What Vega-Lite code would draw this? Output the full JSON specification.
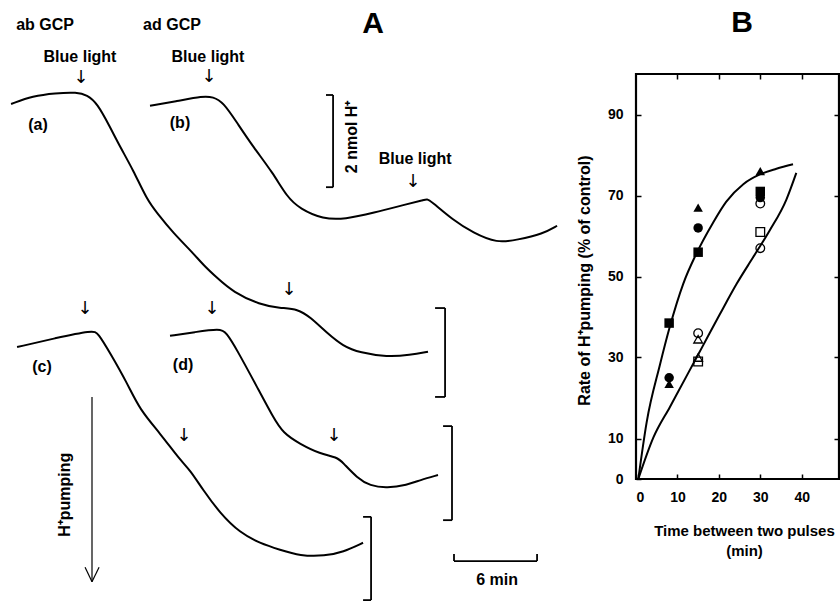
{
  "$schema": "https://vega.github.io/schema/vega-lite/v6.json",
  "width": 840,
  "height": 602,
  "padding": 0,
  "autosize": {"type": "none"},
  "background": "white",
  "config": {"view": {"stroke": null}, "font": "Liberation Sans"},
  "datasets": {
    "traces": [
      {"trace": "a", "t": 0.83, "h": 10.59}, {"trace": "a", "t": 2.48, "h": 10.76}, {"trace": "a", "t": 4.13, "h": 10.82}, {"trace": "a", "t": 5.78, "h": 10.84}, {"trace": "a", "t": 6.53, "h": 10.78}, {"trace": "a", "t": 7.28, "h": 10.61}, {"trace": "a", "t": 8.25, "h": 10.10}, {"trace": "a", "t": 9.0, "h": 9.68}, {"trace": "a", "t": 9.98, "h": 9.19}, {"trace": "a", "t": 11.03, "h": 8.55}, {"trace": "a", "t": 11.78, "h": 8.27}, {"trace": "a", "t": 12.98, "h": 7.85}, {"trace": "a", "t": 14.48, "h": 7.42}, {"trace": "a", "t": 15.23, "h": 7.17}, {"trace": "a", "t": 16.28, "h": 6.89}, {"trace": "a", "t": 17.48, "h": 6.59}, {"trace": "a", "t": 19.5, "h": 6.32}, {"trace": "a", "t": 21.0, "h": 6.25}, {"trace": "a", "t": 22.35, "h": 6.23}, {"trace": "a", "t": 23.25, "h": 6.06}, {"trace": "a", "t": 24.53, "h": 5.72}, {"trace": "a", "t": 25.73, "h": 5.44}, {"trace": "a", "t": 27.0, "h": 5.30}, {"trace": "a", "t": 29.03, "h": 5.21}, {"trace": "a", "t": 30.75, "h": 5.25}, {"trace": "a", "t": 32.1, "h": 5.32},
      {"trace": "b", "t": 11.25, "h": 10.55}, {"trace": "b", "t": 13.28, "h": 10.65}, {"trace": "b", "t": 15.23, "h": 10.76}, {"trace": "b", "t": 15.98, "h": 10.74}, {"trace": "b", "t": 16.73, "h": 10.63}, {"trace": "b", "t": 17.78, "h": 10.19}, {"trace": "b", "t": 18.98, "h": 9.68}, {"trace": "b", "t": 20.48, "h": 9.12}, {"trace": "b", "t": 21.53, "h": 8.61}, {"trace": "b", "t": 22.5, "h": 8.36}, {"trace": "b", "t": 24.23, "h": 8.14}, {"trace": "b", "t": 25.88, "h": 8.14}, {"trace": "b", "t": 27.98, "h": 8.27}, {"trace": "b", "t": 30.53, "h": 8.46}, {"trace": "b", "t": 31.8, "h": 8.55}, {"trace": "b", "t": 32.03, "h": 8.57}, {"trace": "b", "t": 32.3, "h": 8.53}, {"trace": "b", "t": 33.98, "h": 8.12}, {"trace": "b", "t": 35.48, "h": 7.85}, {"trace": "b", "t": 37.28, "h": 7.63}, {"trace": "b", "t": 38.78, "h": 7.70}, {"trace": "b", "t": 40.73, "h": 7.83}, {"trace": "b", "t": 41.78, "h": 8.00},
      {"trace": "c", "t": 1.28, "h": 5.42}, {"trace": "c", "t": 4.13, "h": 5.61}, {"trace": "c", "t": 6.98, "h": 5.78}, {"trace": "c", "t": 7.35, "h": 5.72}, {"trace": "c", "t": 8.25, "h": 5.30}, {"trace": "c", "t": 9.53, "h": 4.66}, {"trace": "c", "t": 10.5, "h": 4.08}, {"trace": "c", "t": 12.0, "h": 3.59}, {"trace": "c", "t": 13.5, "h": 3.02}, {"trace": "c", "t": 14.25, "h": 2.81}, {"trace": "c", "t": 15.23, "h": 2.38}, {"trace": "c", "t": 16.5, "h": 1.89}, {"trace": "c", "t": 18.0, "h": 1.47}, {"trace": "c", "t": 19.5, "h": 1.25}, {"trace": "c", "t": 21.0, "h": 1.11}, {"trace": "c", "t": 22.5, "h": 0.98}, {"trace": "c", "t": 24.38, "h": 0.98}, {"trace": "c", "t": 25.73, "h": 1.06}, {"trace": "c", "t": 27.23, "h": 1.26},
      {"trace": "d", "t": 12.75, "h": 5.66}, {"trace": "d", "t": 14.63, "h": 5.74}, {"trace": "d", "t": 16.5, "h": 5.81}, {"trace": "d", "t": 16.95, "h": 5.74}, {"trace": "d", "t": 17.78, "h": 5.36}, {"trace": "d", "t": 19.28, "h": 4.57}, {"trace": "d", "t": 20.48, "h": 3.93}, {"trace": "d", "t": 21.23, "h": 3.59}, {"trace": "d", "t": 22.5, "h": 3.36}, {"trace": "d", "t": 24.0, "h": 3.15}, {"trace": "d", "t": 25.28, "h": 3.08}, {"trace": "d", "t": 25.73, "h": 2.96}, {"trace": "d", "t": 26.78, "h": 2.64}, {"trace": "d", "t": 27.75, "h": 2.47}, {"trace": "d", "t": 29.03, "h": 2.42}, {"trace": "d", "t": 30.53, "h": 2.49}, {"trace": "d", "t": 31.5, "h": 2.59}, {"trace": "d", "t": 32.85, "h": 2.70}
    ],
    "brackets": [
      {"t": 24.98, "t2": 24.98, "h": 10.78, "h2": 8.82}, {"t": 24.45, "t2": 24.98, "h": 10.78, "h2": 10.78}, {"t": 24.45, "t2": 24.98, "h": 8.82, "h2": 8.82},
      {"t": 33.38, "t2": 33.38, "h": 6.25, "h2": 4.36}, {"t": 32.63, "t2": 33.38, "h": 6.25, "h2": 6.25}, {"t": 32.63, "t2": 33.38, "h": 4.36, "h2": 4.36},
      {"t": 33.9, "t2": 33.9, "h": 3.74, "h2": 1.74}, {"t": 33.23, "t2": 33.9, "h": 3.74, "h2": 3.74}, {"t": 33.23, "t2": 33.9, "h": 1.74, "h2": 1.74},
      {"t": 27.83, "t2": 27.83, "h": 1.81, "h2": 0.04}, {"t": 27.23, "t2": 27.83, "h": 1.81, "h2": 1.81}, {"t": 27.23, "t2": 27.83, "h": 0.04, "h2": 0.04},
      {"t": 34.05, "t2": 40.28, "h": 0.87, "h2": 0.87}, {"t": 34.05, "t2": 34.05, "h": 0.87, "h2": 1.02}, {"t": 40.28, "t2": 40.28, "h": 0.87, "h2": 1.02}
    ],
    "bigarrow": [
      {"t": 6.9, "t2": 6.9, "h": 4.36, "h2": 0.43}, {"t": 6.38, "t2": 6.9, "h": 0.74, "h2": 0.43}, {"t": 7.43, "t2": 6.9, "h": 0.74, "h2": 0.43}
    ],
    "labels": [
      {"label": "ab GCP", "t": 3.38, "h": 12.27}, {"label": "ad GCP", "t": 12.9, "h": 12.27},
      {"label": "Blue light", "t": 6.0, "h": 11.59}, {"label": "Blue light", "t": 15.6, "h": 11.59}, {"label": "Blue light", "t": 31.13, "h": 9.42},
      {"label": "(a)", "t": 2.85, "h": 10.14}, {"label": "(b)", "t": 13.5, "h": 10.19}, {"label": "(c)", "t": 3.15, "h": 5.0}, {"label": "(d)", "t": 13.73, "h": 5.04},
      {"label": "6 min", "t": 37.28, "h": 0.47}
    ],
    "vlabels": [
      {"label": "2 nmol H⁺", "t": 26.4, "h": 9.89}, {"label": "H⁺pumping", "t": 4.88, "h": 2.28}
    ],
    "panels": [
      {"label": "A", "t": 27.98, "h": 12.29}, {"label": "B", "t": 55.65, "h": 12.31}
    ],
    "arrows": [
      {"t": 6.08, "h": 11.14}, {"t": 15.68, "h": 11.16}, {"t": 30.98, "h": 8.92}, {"t": 21.68, "h": 6.63},
      {"t": 6.38, "h": 6.23}, {"t": 15.9, "h": 6.23}, {"t": 13.8, "h": 3.53}, {"t": 25.05, "h": 3.53}
    ],
    "frame": [{"x": 0, "x2": 49, "y": 0, "y2": 100}],
    "curves": [
      {"c": "ab", "x": 0.56, "y": 0}, {"c": "ab", "x": 2.57, "y": 14.0}, {"c": "ab", "x": 5.78, "y": 28.2}, {"c": "ab", "x": 8.19, "y": 37.7}, {"c": "ab", "x": 11.4, "y": 48.2}, {"c": "ab", "x": 14.6, "y": 55.7}, {"c": "ab", "x": 18.6, "y": 63.3}, {"c": "ab", "x": 21.8, "y": 68.5}, {"c": "ab", "x": 25.9, "y": 72.8}, {"c": "ab", "x": 29.9, "y": 75.2}, {"c": "ab", "x": 33.9, "y": 76.6}, {"c": "ab", "x": 37.9, "y": 77.7},
      {"c": "ad", "x": 0.56, "y": 0}, {"c": "ad", "x": 4.18, "y": 10.2}, {"c": "ad", "x": 8.19, "y": 17.8}, {"c": "ad", "x": 12.2, "y": 25.4}, {"c": "ad", "x": 16.2, "y": 33.0}, {"c": "ad", "x": 20.2, "y": 40.6}, {"c": "ad", "x": 24.3, "y": 48.2}, {"c": "ad", "x": 28.3, "y": 54.8}, {"c": "ad", "x": 32.3, "y": 61.4}, {"c": "ad", "x": 36.3, "y": 69.0}, {"c": "ad", "x": 38.7, "y": 75.6}
    ],
    "filledpts": [
      {"x": 8, "y": 38.5, "s": "square"}, {"x": 8, "y": 25, "s": "circle"}, {"x": 8, "y": 23.5, "s": "triangle"},
      {"x": 15, "y": 67, "s": "triangle"}, {"x": 15, "y": 62, "s": "circle"}, {"x": 15, "y": 56, "s": "square"},
      {"x": 30, "y": 76, "s": "triangle"}, {"x": 30, "y": 71, "s": "square"}, {"x": 30, "y": 69.5, "s": "circle"}
    ],
    "openpts": [
      {"x": 15, "y": 36, "s": "circle"}, {"x": 15, "y": 34.5, "s": "triangle"}, {"x": 15, "y": 30, "s": "triangle"}, {"x": 15, "y": 29, "s": "square"},
      {"x": 30, "y": 61, "s": "square"}, {"x": 30, "y": 57, "s": "circle"}, {"x": 30, "y": 68, "s": "circle"}
    ]
  },
  "layer": [
    {
      "layer": [
        {
          "data": {"name": "traces"},
          "mark": {"type": "line", "color": "black", "strokeWidth": 2, "interpolate": "basis", "strokeJoin": "round"},
          "encoding": {
            "x": {"field": "t", "type": "quantitative", "scale": {"domain": [0, 42], "range": [0, 560], "nice": false, "zero": false}, "axis": null},
            "y": {"field": "h", "type": "quantitative", "scale": {"domain": [0, 12.8], "range": [602, 0], "nice": false, "zero": false}, "axis": null},
            "detail": {"field": "trace", "type": "nominal"}
          }
        },
        {
          "data": {"name": "brackets"},
          "mark": {"type": "rule", "color": "black", "strokeWidth": 1.8},
          "encoding": {
            "x": {"field": "t", "type": "quantitative", "axis": null},
            "x2": {"field": "t2"},
            "y": {"field": "h", "type": "quantitative", "axis": null},
            "y2": {"field": "h2"}
          }
        },
        {
          "data": {"name": "bigarrow"},
          "mark": {"type": "rule", "color": "black", "strokeWidth": 1.2},
          "encoding": {
            "x": {"field": "t", "type": "quantitative", "axis": null},
            "x2": {"field": "t2"},
            "y": {"field": "h", "type": "quantitative", "axis": null},
            "y2": {"field": "h2"}
          }
        },
        {
          "data": {"name": "labels"},
          "mark": {"type": "text", "font": "Liberation Sans", "fontWeight": "bold", "fontSize": 16, "color": "black", "baseline": "middle", "align": "center"},
          "encoding": {
            "x": {"field": "t", "type": "quantitative", "axis": null},
            "y": {"field": "h", "type": "quantitative", "axis": null},
            "text": {"field": "label"}
          }
        },
        {
          "data": {"name": "vlabels"},
          "mark": {"type": "text", "font": "Liberation Sans", "fontWeight": "bold", "fontSize": 16, "color": "black", "baseline": "middle", "align": "center", "angle": 270},
          "encoding": {
            "x": {"field": "t", "type": "quantitative", "axis": null},
            "y": {"field": "h", "type": "quantitative", "axis": null},
            "text": {"field": "label"}
          }
        },
        {
          "data": {"name": "panels"},
          "mark": {"type": "text", "font": "Liberation Sans", "fontWeight": "bold", "fontSize": 30, "color": "black", "baseline": "middle", "align": "center"},
          "encoding": {
            "x": {"field": "t", "type": "quantitative", "axis": null},
            "y": {"field": "h", "type": "quantitative", "axis": null},
            "text": {"field": "label"}
          }
        },
        {
          "data": {"name": "arrows"},
          "mark": {"type": "text", "font": "DejaVu Sans", "fontSize": 18, "color": "black", "baseline": "middle", "align": "center", "text": "↓"},
          "encoding": {
            "x": {"field": "t", "type": "quantitative", "axis": null},
            "y": {"field": "h", "type": "quantitative", "axis": null}
          }
        }
      ]
    },
    {
      "layer": [
        {
          "data": {"name": "frame"},
          "mark": {"type": "rect", "filled": false, "stroke": "black", "strokeWidth": 2.2},
          "encoding": {
            "x": {"field": "x", "type": "quantitative",
              "scale": {"domain": [0, 49], "range": [636, 839], "nice": false, "zero": false},
              "axis": {"orient": "bottom", "offset": -123, "values": [0, 10, 20, 30, 40], "tickSize": -5, "tickWidth": 1.5, "tickColor": "black", "domain": false, "grid": false,
                "labelFont": "Liberation Sans", "labelFontWeight": "bold", "labelFontSize": 14, "labelColor": "black", "labelPadding": 16,
                "title": ["Time between two pulses", "(min)"], "titleFont": "Liberation Sans", "titleFontWeight": "bold", "titleFontSize": 15, "titleColor": "black",
                "titleX": 744, "titleY": 44, "titleAlign": "center", "titleBaseline": "top", "titleLineHeight": 20}},
            "x2": {"field": "x2"},
            "y": {"field": "y", "type": "quantitative",
              "scale": {"domain": [0, 100], "range": [479, 74], "nice": false, "zero": false},
              "axis": {"orient": "left", "offset": -636, "values": [0, 10, 30, 50, 70, 90], "tickSize": -5, "tickWidth": 1.5, "tickColor": "black", "domain": false, "grid": false,
                "labelFont": "Liberation Sans", "labelFontWeight": "bold", "labelFontSize": 14, "labelColor": "black", "labelPadding": 18,
                "title": "Rate of H⁺pumping (% of control)", "titleFont": "Liberation Sans", "titleFontWeight": "bold", "titleFontSize": 16, "titleColor": "black",
                "titleX": -44, "titleY": 280, "titleAlign": "center", "titleBaseline": "bottom", "titleAngle": 270}},
            "y2": {"field": "y2"}
          }
        },
        {
          "data": {"name": "frame"},
          "mark": {"type": "point", "opacity": 0},
          "encoding": {
            "x": {"field": "x", "type": "quantitative",
              "axis": {"orient": "top", "offset": -74, "values": [10, 20, 30, 40], "labels": false, "tickSize": -5, "tickWidth": 1.5, "tickColor": "black", "domain": false, "grid": false, "title": null}},
            "y": {"field": "y", "type": "quantitative",
              "axis": {"orient": "right", "offset": -1, "values": [10, 30, 50, 70, 90], "labels": false, "tickSize": -5, "tickWidth": 1.5, "tickColor": "black", "domain": false, "grid": false, "title": null}}
          }
        },
        {
          "data": {"name": "curves"},
          "mark": {"type": "line", "color": "black", "strokeWidth": 2, "interpolate": "monotone"},
          "encoding": {
            "x": {"field": "x", "type": "quantitative", "axis": null},
            "y": {"field": "y", "type": "quantitative", "axis": null},
            "detail": {"field": "c", "type": "nominal"}
          }
        },
        {
          "data": {"name": "filledpts"},
          "mark": {"type": "point", "filled": true, "color": "black", "size": 90, "opacity": 1},
          "encoding": {
            "x": {"field": "x", "type": "quantitative", "axis": null},
            "y": {"field": "y", "type": "quantitative", "axis": null},
            "shape": {"field": "s", "type": "nominal", "scale": {"domain": ["square", "circle", "triangle"], "range": ["square", "circle", "triangle-up"]}, "legend": null}
          }
        },
        {
          "data": {"name": "openpts"},
          "mark": {"type": "point", "filled": false, "color": "black", "strokeWidth": 1.3, "size": 75, "opacity": 1},
          "encoding": {
            "x": {"field": "x", "type": "quantitative", "axis": null},
            "y": {"field": "y", "type": "quantitative", "axis": null},
            "shape": {"field": "s", "type": "nominal", "scale": {"domain": ["square", "circle", "triangle"], "range": ["square", "circle", "triangle-up"]}, "legend": null}
          }
        }
      ],
      "resolve": {"axis": {"x": "independent", "y": "independent"}}
    }
  ],
  "resolve": {"scale": {"x": "independent", "y": "independent"}}
}
